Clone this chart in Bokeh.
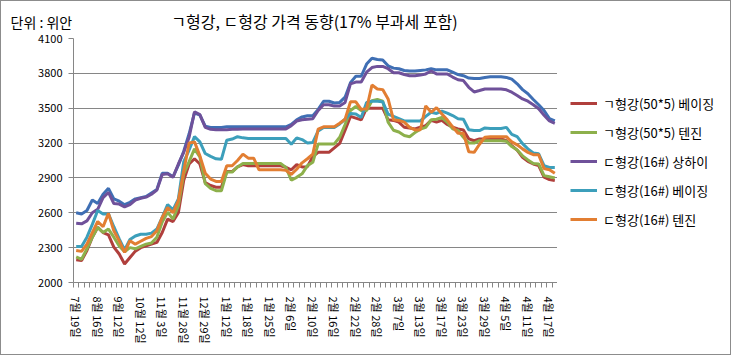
import numpy as np
from bokeh.plotting import figure
from bokeh.models import Range1d, FixedTicker, Legend, LegendItem
from bokeh.layouts import column, row
from bokeh.core.properties import value
from bokeh.embed import file_html
from bokeh.resources import INLINE

date_labels = ["7월 19일", "8월 16일", "9월 12일", "10월 12일", "11월 3일", "11월 28일",
               "12월 29일", "1월 12일", "1월 18일", "1월 25일", "2월 6일", "2월 10일",
               "2월 16일", "2월 22일", "2월 28일", "3월 7일", "3월 13일", "3월 17일",
               "3월 23일", "3월 29일", "4월 5일", "4월 11일", "4월 17일"]
label_step = 4
y_ticks = [2000, 2300, 2600, 2900, 3200, 3500, 3800, 4100]

# unlabeled blue series (not in legend)
blue = [2600, 2590, 2620, 2710, 2680, 2760, 2810, 2720, 2700, 2670,
        2690, 2720, 2730, 2740, 2770, 2800, 2940, 2940, 2910, 3010,
        3130, 3280, 3460, 3440, 3345, 3335, 3335, 3335, 3340, 3340,
        3340, 3340, 3340, 3340, 3340, 3340, 3340, 3340, 3340, 3340,
        3360, 3400, 3425, 3435, 3435, 3490, 3560, 3560, 3545, 3550,
        3595, 3720, 3775, 3775, 3880, 3930, 3920, 3915, 3865, 3845,
        3840, 3825, 3820, 3820, 3825, 3830, 3840, 3830, 3830, 3830,
        3810, 3790, 3780, 3760, 3755, 3755, 3765, 3770, 3770, 3770,
        3765, 3750, 3710, 3660, 3625, 3575, 3530, 3480, 3410, 3390]
red = [2195, 2190, 2275, 2390, 2475, 2430, 2410, 2305, 2245, 2160,
       2215, 2270, 2300, 2315, 2330, 2345, 2430, 2545, 2525, 2600,
       2880, 3020, 3065, 3020, 2860, 2835, 2820, 2820, 2955, 2955,
       2995, 3015, 3005, 3005, 3005, 3005, 3005, 3005, 3005, 2992,
       2970, 3015, 2995, 2997, 3085, 3120, 3120, 3120, 3158, 3198,
       3310, 3430, 3415, 3400, 3500, 3500, 3500, 3500, 3400, 3395,
       3380, 3336, 3330, 3322, 3336, 3350, 3395, 3380, 3395, 3360,
       3336, 3322, 3313, 3236, 3220, 3236, 3236, 3236, 3236, 3236,
       3220, 3178, 3140, 3078, 3043, 3020, 3006, 2906, 2886, 2877]
green = [2220, 2200, 2290, 2390, 2475, 2430, 2460, 2390, 2315, 2265,
         2300, 2290, 2310, 2330, 2340, 2390, 2520, 2605, 2545, 2660,
         2935, 3040, 3150, 3080, 2850, 2810, 2790, 2790, 2950, 2950,
         2995, 3025, 3025, 3025, 3025, 3025, 3025, 3025, 3025, 2990,
         2880, 2905, 2935, 3006, 3035, 3193, 3193, 3193, 3193, 3250,
         3360, 3480, 3515, 3480, 3480, 3565, 3575, 3560, 3380, 3310,
         3295, 3265, 3255, 3290, 3320, 3335, 3400, 3405, 3420, 3380,
         3322, 3308, 3250, 3200, 3200, 3220, 3220, 3220, 3220, 3220,
         3215, 3170, 3140, 3090, 3055, 3025, 3020, 2920, 2910, 2900]
purple = [2510, 2505, 2530, 2600, 2630, 2730, 2775, 2680, 2675, 2650,
          2670, 2710, 2725, 2735, 2760, 2795, 2930, 2935, 2905, 3020,
          3120, 3250, 3470, 3445, 3335, 3318, 3315, 3315, 3315, 3318,
          3320, 3322, 3322, 3322, 3322, 3322, 3322, 3322, 3322, 3322,
          3350, 3390, 3400, 3405, 3410, 3480, 3530, 3530, 3518, 3520,
          3550, 3710, 3725, 3725, 3810, 3850, 3860, 3860, 3840, 3805,
          3805, 3790, 3780, 3780, 3785, 3795, 3820, 3795, 3795, 3795,
          3768, 3745, 3738, 3680, 3640, 3652, 3665, 3665, 3665, 3665,
          3658, 3638, 3610, 3580, 3560, 3530, 3495, 3440, 3390, 3370]
teal = [2310, 2310, 2390, 2500, 2620, 2590, 2590, 2480, 2375, 2280,
        2370, 2400, 2415, 2415, 2425, 2460, 2560, 2670, 2625, 2720,
        3040, 3140, 3255, 3210, 3110, 3085, 3065, 3060, 3225, 3235,
        3255, 3245, 3240, 3240, 3240, 3240, 3240, 3240, 3240, 3240,
        3190, 3245, 3230, 3200, 3205, 3305, 3335, 3335, 3335, 3365,
        3405, 3455, 3450, 3420, 3550, 3560, 3560, 3555, 3450, 3430,
        3410, 3390, 3390, 3390, 3390, 3430, 3465, 3455, 3475, 3458,
        3437, 3410, 3405, 3315, 3308, 3308, 3330, 3325, 3325, 3325,
        3335, 3275, 3255, 3195, 3150, 3115, 3108, 3005, 2990, 2990]
orange = [2275, 2268, 2330, 2430, 2525, 2480, 2595, 2445, 2360, 2260,
          2360, 2330, 2355, 2380, 2395, 2445, 2560, 2645, 2600, 2705,
          2960, 3200, 3210, 3090, 2940, 2890, 2870, 2870, 3005, 3005,
          3050, 3105, 3070, 3070, 2970, 2970, 2970, 2970, 2970, 2965,
          2930, 2975, 3030, 3065, 3105, 3320, 3340, 3340, 3340, 3370,
          3405, 3555, 3555, 3490, 3495, 3700, 3665, 3660, 3580, 3400,
          3395, 3380, 3335, 3313, 3315, 3520, 3465, 3505, 3450, 3400,
          3340, 3285, 3285, 3125, 3120, 3190, 3250, 3255, 3255, 3255,
          3255, 3210, 3185, 3150, 3120, 3100, 3100, 2980, 2970, 2940]

series_names = ["ㄱ형강(50*5) 베이징", "ㄱ형강(50*5) 텐진", "ㄷ형강(16#) 상하이",
                "ㄷ형강(16#) 베이징", "ㄷ형강(16#) 텐진"]
title_text = "ㄱ형강, ㄷ형강 가격 동향(17% 부과세 포함)"
unit_text = "단위 : 위안"

n = len(red)
xs = [i + 0.5 for i in range(n)]

FONT = "Noto Sans CJK KR"
GRID = "#868686"
colors = ["#b03f3c", "#8db04b", "#6f519a", "#3c9fbb", "#e27e32"]
data = [red, green, purple, teal, orange]

TOTAL_W, TOTAL_H = 729, 353
TOP_H = 30
MAIN_W = 556
LEG_W = TOTAL_W - MAIN_W
BODY_H = TOTAL_H - TOP_H


def blank(w, h):
    f = figure(width=w, height=h, output_backend="svg", toolbar_location=None,
               x_range=Range1d(0, w), y_range=Range1d(0, h),
               min_border=0, outline_line_color=None)
    f.axis.visible = False
    f.grid.visible = False
    return f


# ---- header (unit + title) ----
top = blank(TOTAL_W, TOP_H)
top.text(x=[9], y=[9.5], text=[unit_text], text_font=value(FONT),
         text_font_size="14px", text_align="left", text_baseline="middle",
         text_color="#000000")
top.text(x=[313], y=[11], text=[title_text], text_font=value(FONT),
         text_font_size="16px", text_align="center", text_baseline="middle",
         text_color="#000000")

# ---- main chart ----
p = figure(width=MAIN_W, height=BODY_H, output_backend="svg", toolbar_location=None,
           x_range=Range1d(0, n), y_range=Range1d(2000, 4100),
           min_border_left=72, min_border_right=0, min_border_top=7,
           min_border_bottom=72)
p.outline_line_color = None
p.xgrid.visible = False
p.ygrid.grid_line_color = GRID
p.ygrid.grid_line_width = 1

p.yaxis.ticker = FixedTicker(ticks=y_ticks)
p.yaxis.axis_line_color = GRID
p.yaxis.major_tick_line_color = GRID
p.yaxis.major_tick_out = 5
p.yaxis.major_tick_in = 0
p.yaxis.minor_tick_line_color = None
p.yaxis.major_label_text_font = FONT
p.yaxis.major_label_text_font_size = "11px"
p.yaxis.major_label_text_color = "#000000"
p.yaxis.major_label_standoff = 6

major = [i * label_step + 0.5 for i in range(len(date_labels))]
p.xaxis.ticker = FixedTicker(ticks=major, minor_ticks=list(range(n + 1)))
p.xaxis.major_label_overrides = {t: lab for t, lab in zip(major, date_labels)}
p.xaxis.major_label_orientation = "vertical"
p.xaxis.axis_line_color = GRID
p.xaxis.major_tick_line_color = None
p.xaxis.major_tick_out = 0
p.xaxis.major_tick_in = 0
p.xaxis.minor_tick_line_color = GRID
p.xaxis.minor_tick_out = 5
p.xaxis.minor_tick_in = 0
p.xaxis.major_label_text_font = FONT
p.xaxis.major_label_text_font_size = "11px"
p.xaxis.major_label_text_color = "#000000"
p.xaxis.major_label_standoff = 9

p.line(xs, blue, line_color="#3f6fb4", line_width=3)
for col, ys in zip(colors, data):
    p.line(xs, ys, line_color=col, line_width=3)

# ---- legend panel (frame aligned with the main chart frame) ----
lf = blank(LEG_W, BODY_H)
items = []
for name, col, ys in zip(series_names, colors, data):
    # same series, outside this panel's visible range: only the legend swatch shows
    r = lf.line(xs, ys, line_color=col, line_width=3)
    items.append(LegendItem(label=name, renderers=[r]))
legend = Legend(items=items, location=(13, 53), glyph_width=27, glyph_height=20,
                label_height=20, spacing=9, padding=0, margin=0, label_standoff=6,
                border_line_color=None, background_fill_alpha=0,
                label_text_font=FONT, label_text_font_size="13px",
                label_text_color="#000000")
lf.add_layout(legend)

layout = column(top, row(p, lf, spacing=0), spacing=0)
layout.styles = {"border": "1px solid #8c8c8c"}

open("out.html", "w").write(file_html(layout, INLINE))
